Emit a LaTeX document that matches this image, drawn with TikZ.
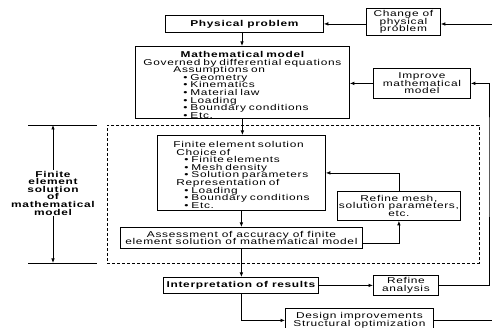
\documentclass[tikz,border=0pt]{standalone}
\usepackage{fontspec}
\setmainfont{Liberation Sans}[FakeStretch=1.4, LetterSpace=8]
\usetikzlibrary{arrows.meta}
\newcommand\txf{\fontsize{8.5}{7.6}\selectfont\lineskiplimit=-20pt\lineskip=0pt}
\begin{document}
\begin{tikzpicture}[x=1pt,y=-1pt,
  box/.style={draw, line width=0.8pt, inner sep=0pt, align=center, font=\txf, anchor=north west},
  txt/.style={inner sep=0pt, align=left, font=\txf},
  conn/.style={line width=0.7pt, -{Latex[length=4.5pt,width=3.5pt]}},
  plain/.style={line width=0.7pt},
  dbox/.style={draw, line width=0.7pt, dash pattern=on 3pt off 2pt, anchor=north west, inner sep=0pt},
  lbl/.style={font=\txf\bfseries, align=center, inner sep=1pt}]
\useasboundingbox (0,0) rectangle (492,328);
\clip (0,0) rectangle (492,328);
% dashed region
\node[dbox, minimum width=372pt, minimum height=138pt] (fes) at (107,125) {};
% boxes
\node[box, minimum width=158pt, minimum height=17pt] (pp) at (165,15) {\bfseries Physical problem};
\node[box, minimum width=74pt, minimum height=27pt] (chg) at (366,8) {Change of\\physical\\problem};
\node[box, minimum width=214pt, minimum height=72pt] (mm) at (135,46) {};
\node[txt, text width=214pt] (mmt) at ([yshift=-2.5pt]mm.center)
 {\makebox[214pt]{\bfseries Mathematical model}\\
  \makebox[214pt]{Governed by differential equations}\\
  \hspace*{38pt}Assumptions on\\
  \hspace*{48pt}\textbullet\ Geometry\\
  \hspace*{48pt}\textbullet\ Kinematics\\
  \hspace*{48pt}\textbullet\ Material law\\
  \hspace*{48pt}\textbullet\ Loading\\
  \hspace*{48pt}\textbullet\ Boundary conditions\\
  \hspace*{48pt}\textbullet\ Etc.};
\node[box, minimum width=97pt, minimum height=30pt] (im) at (373,68) {Improve\\mathematical\\model};
\node[box, minimum width=168pt, minimum height=75pt] (fe) at (157,135) {};
\node[txt, text width=168pt] (fet) at ([yshift=-2pt]fe.center)
 {\hspace*{16pt}Finite element solution\\
  \hspace*{19pt}Choice of\\
  \hspace*{27pt}\textbullet\ Finite elements\\
  \hspace*{27pt}\textbullet\ Mesh density\\
  \hspace*{27pt}\textbullet\ Solution parameters\\
  \hspace*{19pt}Representation of\\
  \hspace*{27pt}\textbullet\ Loading\\
  \hspace*{27pt}\textbullet\ Boundary conditions\\
  \hspace*{27pt}\textbullet\ Etc.};
\node[box, minimum width=123pt, minimum height=29pt] (rm) at (337,191) {Refine mesh,\\solution parameters,\\etc.};
\node[box, minimum width=242pt, minimum height=21pt] (as) at (120,227) {Assessment of accuracy of finite\\element solution of mathematical model};
\node[box, minimum width=155pt, minimum height=16pt] (ir) at (163,277) {\bfseries Interpretation of results};
\node[box, minimum width=65pt, minimum height=20pt] (ra) at (373,275) {Refine\\analysis};
\node[box, minimum width=148pt, minimum height=24pt] (ds) at (285,308) {Design improvements\\Structural optimization};
% left label
\node[lbl] (fl) at (53,193) {Finite\\element\\solution\\of\\mathematical\\model};
\coordinate (lt) at (53,125);
\coordinate (lb) at (53,263);
\draw[plain] (28,125) -- (97,125);
\draw[plain] (28,263) -- (97,263);
\draw[conn] (fl.north) -- (lt);
\draw[conn] (fl.south) -- (lb);
% connectors
\coordinate (rin) at (492,24);
\coordinate (rx) at (489,150);
\coordinate (rout) at (492,320);
\draw[conn] (rin) -- (rin -| chg.east);
\draw[conn] (chg.west |- pp.east) -- (pp.east);
\draw[conn] (242,32) -- (242,46);
\draw[conn] (im.west) -- (im.west -| mm.east);
\draw[conn] (mm.south) -- (mm.south |- fe.north);
\draw[conn] (fe.south) -- (fe.south |- as.north);
\draw[conn] ([yshift=5pt]as.south east) -| (rm.south);
\draw[conn] (rm.north) |- (fe.east);
\draw[conn] (as.south) -- (as.south |- ir.north);
\draw[conn] (ir.east) -- (ra.west);
\draw[conn] (ra.east) -| (rx) |- (im.east);
\draw[conn] (ir.south) |- (ds.west);
\draw[plain] (ds.east) -- (ds.east -| rout);
\end{tikzpicture}
\end{document}
